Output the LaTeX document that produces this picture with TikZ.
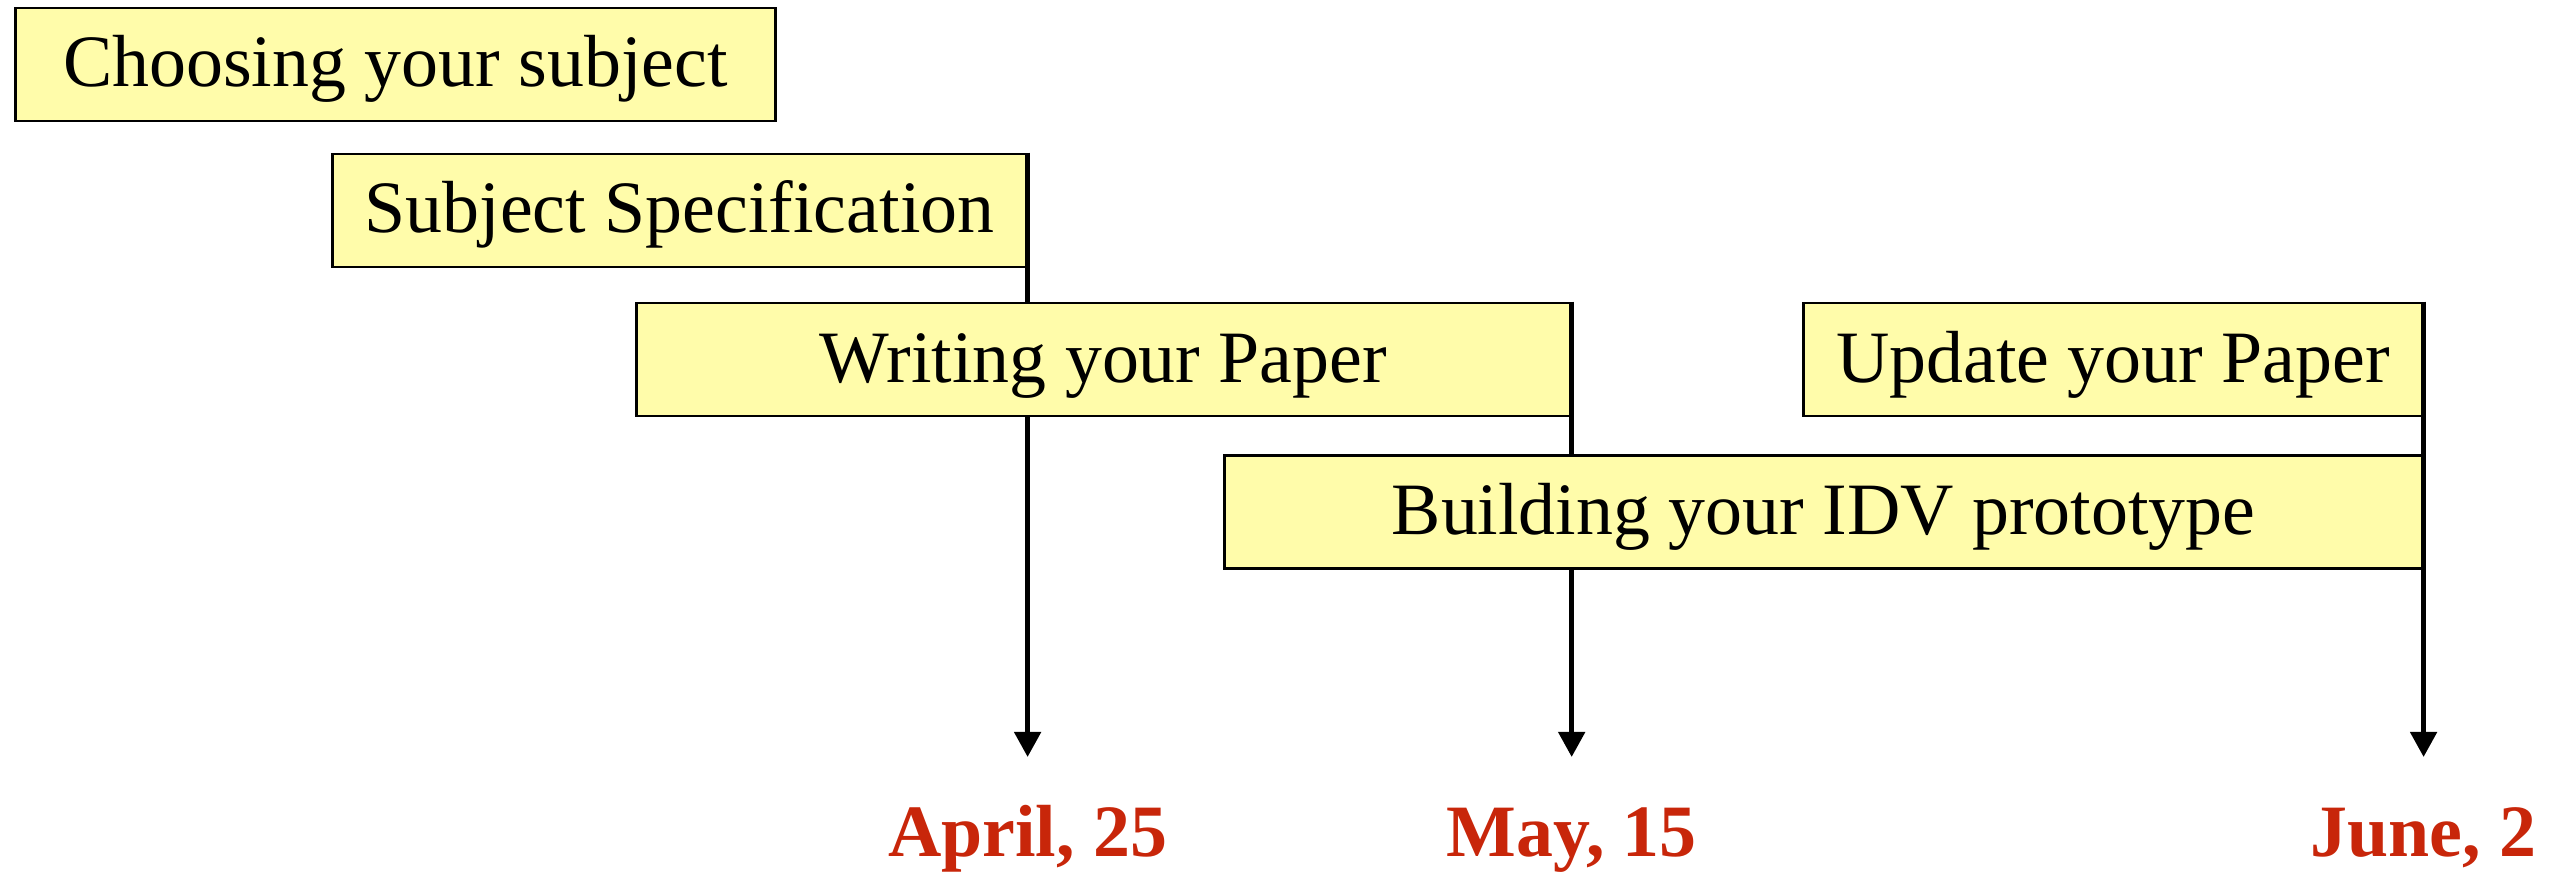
\documentclass[tikz,border=0pt]{standalone}
\usepackage{fontspec}
\setmainfont{Liberation Serif}
\usepackage{tikz}
\usetikzlibrary{arrows.meta,positioning,backgrounds}
\definecolor{taskyellow}{RGB}{255,252,170}
\definecolor{datered}{RGB}{200,38,10}

\begin{document}
\begin{tikzpicture}[x=0.01cm, y=-0.01cm]
\tikzstyle{task} = [rectangle, draw, line width=0.8pt, fill=taskyellow, minimum height=1.13cm, inner sep=0pt, text height=0.6cm, text depth=0.15cm, font=\fontsize{21}{25}\selectfont]
\tikzstyle{deadline} = [anchor=base, inner sep=0pt, text=datered, font=\fontsize{21}{25}\selectfont\bfseries]
\tikzstyle{milestone} = [line width=1.4pt, -{Triangle[length=0.25cm, width=0.26cm]}]
\useasboundingbox (0,0) rectangle (2569,874);
% the tasks
\node[task, minimum width=7.59cm] (choose) at (395.5,64.5) {Choosing your subject};
\node[task, minimum width=6.93cm] (spec) at (679.5,210.5) {Subject Specification};
\node[task, minimum width=9.33cm] (write) at (1103.5,359.5) {Writing your Paper};
\node[task, minimum width=6.18cm] (update) at (2113,359.5) {Update your Paper};
\node[task, minimum width=11.97cm] (build) at (1823.5,512) {Building your IDV prototype};
% the deadlines
\coordinate (tapr) at (spec.east |- 0,757);
\coordinate (tmay) at (write.east |- 0,757);
\coordinate (tjun) at (update.east |- 0,757);
\node[deadline] (apr) at (tapr |- 0,857) {April, 25};
\node[deadline] (may) at (tmay |- 0,857) {May, 15};
\node[deadline] (jun) at (tjun |- 0,857) {June, 2};
\begin{pgfonlayer}{background}
\draw[milestone] (spec.north east) -- (tapr);
\draw[milestone] (write.north east) -- (tmay);
\draw[milestone] (update.north east) -- (tjun);
\end{pgfonlayer}
\end{tikzpicture}
\end{document}
